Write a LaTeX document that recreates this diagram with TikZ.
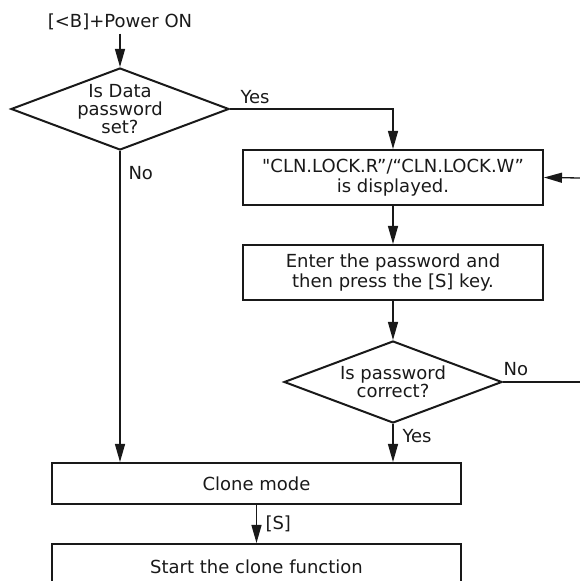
\documentclass[tikz,border=0pt]{standalone}
\usepackage{fontspec}
\setmainfont{DejaVu Sans}
\newfontfamily\plainq{DejaVu Sans}
\usetikzlibrary{arrows.meta}
\usetikzlibrary{shapes.geometric}

\begin{document}
\begin{tikzpicture}[x=1pt, y=1pt, >={Triangle[length=18pt, width=10pt]},
    every node/.style = {font=\fontsize{18}{20}\selectfont, text=black!90},
    stepbox/.style = {draw=black!90, line width=2pt, rectangle, align=center, inner sep=0pt},
    ask/.style = {draw=black!90, line width=2pt, diamond, minimum width=218pt, minimum height=82pt, inner sep=0pt},
    asktext/.style = {align=center, font=\fontsize{18}{18}\selectfont},
    flow/.style = {->, color=black!90, line width=1.3pt},
    plain/.style = {color=black!90, line width=1.3pt}]
    \useasboundingbox (0,0) rectangle (580,581);
    \clip (0,0) rectangle (580,581);

    % boxes and questions
    \node (pwr) at (120,559) {[<B]+Power ON};
    \node[ask, label={[asktext]center:Is Data\\password\\set?}] (isset) at (120,472) {};
    \node[stepbox, minimum width=300pt, minimum height=55pt] (shown) at (393,403.5)
        {{\plainq\symbol{34}}CLN.LOCK.R”/“CLN.LOCK.W”\\is displayed.};
    \node[stepbox, minimum width=300pt, minimum height=55pt] (enter) at (393,308.5)
        {Enter the password and\\then press the [S] key.};
    \node[ask, label={[asktext]center:Is password\\correct?}] (isok) at (393,199) {};
    \node[stepbox, minimum width=409pt, minimum height=41pt] (clone) at (256.5,97.5) {Clone mode};
    \node[stepbox, minimum width=409pt, minimum height=46pt] (run) at (256.5,14) {Start the clone function};

    % loose ends at the right margin
    \coordinate (back) at (581,403);
    \coordinate (out) at (581,199);

    % connectors
    \draw[flow] (pwr.south) -- (isset.north);
    \draw[flow] (isset.east) -- (isset.east -| shown.north) -- (shown.north);
    \node[anchor=south west] (yes1) at (237,474) {Yes};
    \draw[flow] (isset.south) -- (isset.south |- clone.north);
    \node[anchor=west] (no1) at (125,408) {No};
    \draw[flow] (shown.south) -- (enter.north);
    \draw[flow] (enter.south) -- (isok.north);
    \draw[flow] (isok.south) -- (clone.north -| isok.south);
    \node[anchor=west] (yes2) at (399,145) {Yes};
    \draw[plain] (isok.east) -- (out);
    \node[anchor=south west] (no2) at (500,202) {No};
    \draw[flow] (back) -- (shown.east);
    \draw[flow] (clone.south) -- (run.north);
    \node[anchor=west] (key) at (262,57) {[S]};
\end{tikzpicture}
\end{document}
